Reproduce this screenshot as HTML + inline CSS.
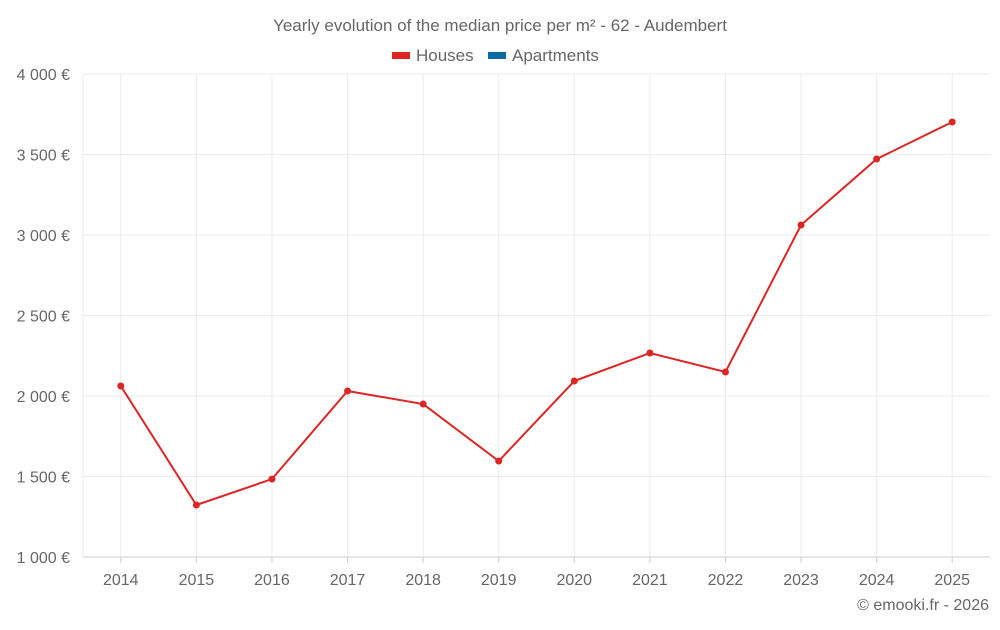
<!DOCTYPE html>
<html>
<head>
<meta charset="utf-8">
<style>
  html,body{margin:0;padding:0;background:#fff;}
  body{width:1000px;height:625px;overflow:hidden;font-family:"Liberation Sans",sans-serif;}
  svg text{font-family:"Liberation Sans",sans-serif;}
</style>
</head>
<body>
<svg id="chart" width="1000" height="625">
  <text x="500" y="31" text-anchor="middle" font-size="17" fill="#666">Yearly evolution of the median price per m² - 62 - Audembert</text>
  <g>
    <g>
      <rect x="392" y="52" width="18" height="7" fill="#dc2626"></rect>
      <text x="416" y="61" font-size="17" fill="#666">Houses</text>
    </g>
    <g>
      <rect x="488" y="52" width="18" height="7" fill="#0b6aa3"></rect>
      <text x="512" y="61" font-size="17" fill="#666">Apartments</text>
    </g>
  </g>
  <g id="grid"></g>
  <g id="yaxis"></g>
  <g id="xaxis"></g>
  <g id="series"></g>
  <text x="989" y="610" text-anchor="end" font-size="16" fill="#666">© emooki.fr - 2026</text>
</svg>
<script>
const categories = ["2014","2015","2016","2017","2018","2019","2020","2021","2022","2023","2024","2025"];
const housesValues = [2062,1323,1484,2031,1950,1596,2093,2267,2149,3062,3472,3702];
const yTicks = [1000,1500,2000,2500,3000,3500,4000];
const yTickLabels = ["1 000 €","1 500 €","2 000 €","2 500 €","3 000 €","3 500 €","4 000 €"];

const NS = "http://www.w3.org/2000/svg";
const L = 83, R = 990, T = 74, B = 557;
const yMin = 1000, yMax = 4000;
const band = (R - L) / categories.length;
function xPos(i){ return L + (i + 0.5) * band; }
function yPos(v){ return B - (v - yMin) / (yMax - yMin) * (B - T); }
function mk(tag, attrs, parent){
  const e = document.createElementNS(NS, tag);
  for (const k in attrs) e.setAttribute(k, attrs[k]);
  parent.appendChild(e);
  return e;
}
const grid = document.getElementById('grid');
const yaxis = document.getElementById('yaxis');
const xaxis = document.getElementById('xaxis');
const series = document.getElementById('series');

yTicks.forEach((v, i) => {
  const y = yPos(v);
  const ln = mk('line', {x1:L, x2:R, y1:y, y2:y, stroke: i===0 ? '#ccc' : '#ebebeb', 'stroke-width':1}, grid);
  
  
  const t = mk('text', {x:70, y:y+6, 'text-anchor':'end', 'font-size':16, fill:'#666'}, yaxis);
  t.textContent = yTickLabels[i];
  
  
});
const border = mk('line', {x1:L, x2:L, y1:T, y2:B, stroke:'#ebebeb', 'stroke-width':1}, grid);


categories.forEach((c, i) => {
  const ln = mk('line', {x1:xPos(i), x2:xPos(i), y1:T, y2:B, stroke:'#ebebeb', 'stroke-width':1}, grid);
  
  
  const tk = mk('line', {x1:xPos(i), x2:xPos(i), y1:B, y2:B+6, stroke:'#ccc'}, xaxis);
  
  
  const t = mk('text', {x:xPos(i), y:585, 'text-anchor':'middle', 'font-size':16, fill:'#666'}, xaxis);
  t.textContent = c;
  
  
});
const pts = housesValues.map((v, i) => xPos(i) + ',' + yPos(v)).join(' ');
const line = mk('polyline', {points:pts, fill:'none', stroke:'#dc2626', 'stroke-width':2}, series);


housesValues.forEach((v, i) => {
  const c = mk('circle', {cx:xPos(i), cy:yPos(v), r:3.5, fill:'#dc2626'}, series);
  
  
});
</script>
</body>
</html>
